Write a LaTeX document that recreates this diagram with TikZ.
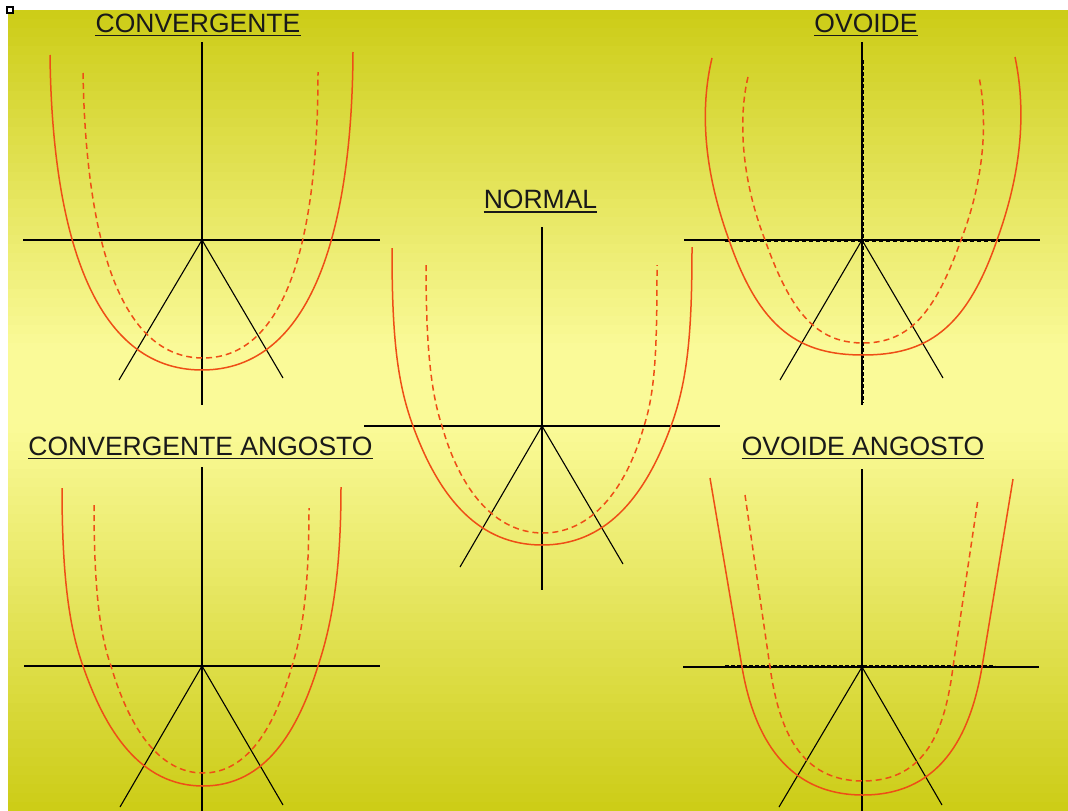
\documentclass[tikz,border=0pt]{standalone}
\usepackage{fontspec}
\setmainfont{Liberation Sans}
\definecolor{curvered}{RGB}{238,78,22}
\definecolor{bgtop}{RGB}{204,204,22}
\definecolor{bgmid}{RGB}{250,250,152}
\begin{document}
\begin{tikzpicture}[x=1pt,y=-1pt,
 redsolid/.style={draw=curvered,line width=1.5pt},
 reddash/.style={draw=curvered,line width=1.5pt,dash pattern=on 6pt off 4pt},
 axisline/.style={draw=black,line width=1.1pt},
 overdash/.style={draw=black,line width=1.7pt,dash pattern=on 4pt off 2pt},
 thindash/.style={draw=black,line width=0.8pt,dash pattern=on 4pt off 3pt},
 titletext/.style={font=\fontsize{26.5}{30}\selectfont,inner sep=0pt,anchor=base,text=black!90},
 uline/.style={draw=black!90,line width=1.5pt}]
\useasboundingbox (0,0) rectangle (1068,811);
\fill[white] (0,0) rectangle (1068,811);
\foreach \i in {0,...,88}{
  \pgfmathsetmacro{\yy}{10+9*\i}
  \pgfmathsetmacro{\f}{(\i+0.5)/89}
  \pgfmathsetmacro{\p}{\f<0.42 ? 100*\f/0.42 : (\f<0.52 ? 100 : 100*(1-\f)/0.48)}
  \fill[bgmid!\p!bgtop] (8,\yy) rectangle (1068,\yy+9.6);
}
\draw[line width=1.6pt,fill=white] (7,7) rectangle (13,13);

% ---------- CONVERGENTE ----------
\coordinate (c1) at (202,240);
\coordinate (c1t) at (202,42); \coordinate (c1b) at (202,405);
\coordinate (c1w) at (23,240); \coordinate (c1e) at (380,240);
\coordinate (c1l) at (119,380); \coordinate (c1r) at (283,378);
\draw[axisline] (c1t) -- (c1b);
\draw[axisline] (c1w) -- (c1e);
\draw[axisline] (c1l) -- (c1) -- (c1r);
\draw[redsolid] (50,55) .. controls (52,230) and (92,370) .. (202,370) .. controls (312,370) and (352,230) .. (353,52);
\draw[reddash] (83,73) .. controls (86,240) and (120,358) .. (203,358) .. controls (286,358) and (318,240) .. (318,72);
\node[titletext] (t1) at (198,32) {CONVERGENTE};
\draw[uline] ([yshift=-3.5pt]t1.base west) -- ([yshift=-3.5pt]t1.base east);

% ---------- OVOIDE ----------
\coordinate (c2) at (862,240);
\coordinate (c2t) at (862,42); \coordinate (c2b) at (862,405);
\coordinate (c2w) at (684,240); \coordinate (c2e) at (1040,240);
\coordinate (c2l) at (780,380); \coordinate (c2r) at (943,378);
\draw[axisline] (c2t) -- (c2b);
\draw[axisline] (c2w) -- (c2e);
\draw[overdash] (863,60) -- (863,403);
\draw[thindash] (725,241) -- (1000,241);
\draw[axisline] (c2l) -- (c2) -- (c2r);
\draw[redsolid] (712,58) .. controls (702,100) and (700,160) .. (729,240) .. controls (760,330) and (800,355) .. (863,355)
  .. controls (926,355) and (966,330) .. (997,240) .. controls (1026,160) and (1024,100) .. (1015,57);
\draw[reddash] (748,77) .. controls (740,110) and (738,170) .. (765,240) .. controls (790,310) and (815,343) .. (863,343)
  .. controls (911,343) and (936,310) .. (961,240) .. controls (988,170) and (986,110) .. (979,77);
\node[titletext] (t2) at (866,32) {OVOIDE};
\draw[uline] ([yshift=-3.5pt]t2.base west) -- ([yshift=-3.5pt]t2.base east);

% ---------- NORMAL ----------
\coordinate (c3) at (542,426);
\coordinate (c3t) at (542,227); \coordinate (c3b) at (542,590);
\coordinate (c3w) at (364,426); \coordinate (c3e) at (720,426);
\coordinate (c3l) at (460,567); \coordinate (c3r) at (623,564);
\draw[axisline] (c3t) -- (c3b);
\draw[axisline] (c3w) -- (c3e);
\draw[axisline] (c3l) -- (c3) -- (c3r);
\draw[redsolid] (392,248) .. controls (392,330) and (396,380) .. (413,426) .. controls (440,500) and (480,545) .. (542,545)
  .. controls (604,545) and (644,500) .. (671,426) .. controls (688,380) and (692,330) .. (692,247);
\draw[reddash] (426,265) .. controls (426,340) and (430,390) .. (442,426) .. controls (460,490) and (495,533) .. (543,533)
  .. controls (591,533) and (626,490) .. (644,426) .. controls (656,390) and (657,340) .. (657,265);
\node[titletext] (t3) at (540.5,208) {NORMAL};
\draw[uline] ([yshift=-4pt]t3.base west) -- ([yshift=-4pt]t3.base east);

% ---------- CONVERGENTE ANGOSTO ----------
\coordinate (c4) at (202,666);
\coordinate (c4t) at (202,467); \coordinate (c4b) at (202,811);
\coordinate (c4w) at (24,666); \coordinate (c4e) at (380,666);
\coordinate (c4l) at (120,807); \coordinate (c4r) at (283,805);
\draw[axisline] (c4t) -- (c4b);
\draw[axisline] (c4w) -- (c4e);
\draw[axisline] (c4l) -- (c4) -- (c4r);
\draw[redsolid] (62,488) .. controls (62,580) and (70,630) .. (83,666) .. controls (105,730) and (140,786) .. (203,786)
  .. controls (266,786) and (298,730) .. (318,666) .. controls (330,630) and (341,580) .. (341,487);
\draw[reddash] (94,505) .. controls (94,590) and (100,635) .. (111,666) .. controls (130,730) and (160,773) .. (203,773)
  .. controls (246,773) and (274,730) .. (292,666) .. controls (302,635) and (309,590) .. (309,508);
\node[titletext] (t4) at (200.5,455) {CONVERGENTE ANGOSTO};
\draw[uline] ([yshift=-3.5pt]t4.base west) -- ([yshift=-3.5pt]t4.base east);

% ---------- OVOIDE ANGOSTO ----------
\coordinate (c5) at (862,667);
\coordinate (c5t) at (862,469); \coordinate (c5b) at (862,811);
\coordinate (c5w) at (683,667); \coordinate (c5e) at (1039,667);
\coordinate (c5l) at (779,807); \coordinate (c5r) at (942,805);
\draw[axisline] (c5t) -- (c5b);
\draw[axisline] (c5w) -- (c5e);
\draw[overdash] (725,666) -- (995,666);
\draw[axisline] (c5l) -- (c5) -- (c5r);
\draw[redsolid] (710,478) -- (742,667) .. controls (752,726) and (780,795) .. (863,795)
  .. controls (946,795) and (972,726) .. (982,667) -- (1013,479);
\draw[reddash] (745,495) -- (770,667) .. controls (779,730) and (800,781) .. (863,781)
  .. controls (926,781) and (945,730) .. (953,667) -- (978,499);
\node[titletext] (t5) at (863,455) {OVOIDE ANGOSTO};
\draw[uline] ([yshift=-3.5pt]t5.base west) -- ([yshift=-3.5pt]t5.base east);
\end{tikzpicture}
\end{document}
